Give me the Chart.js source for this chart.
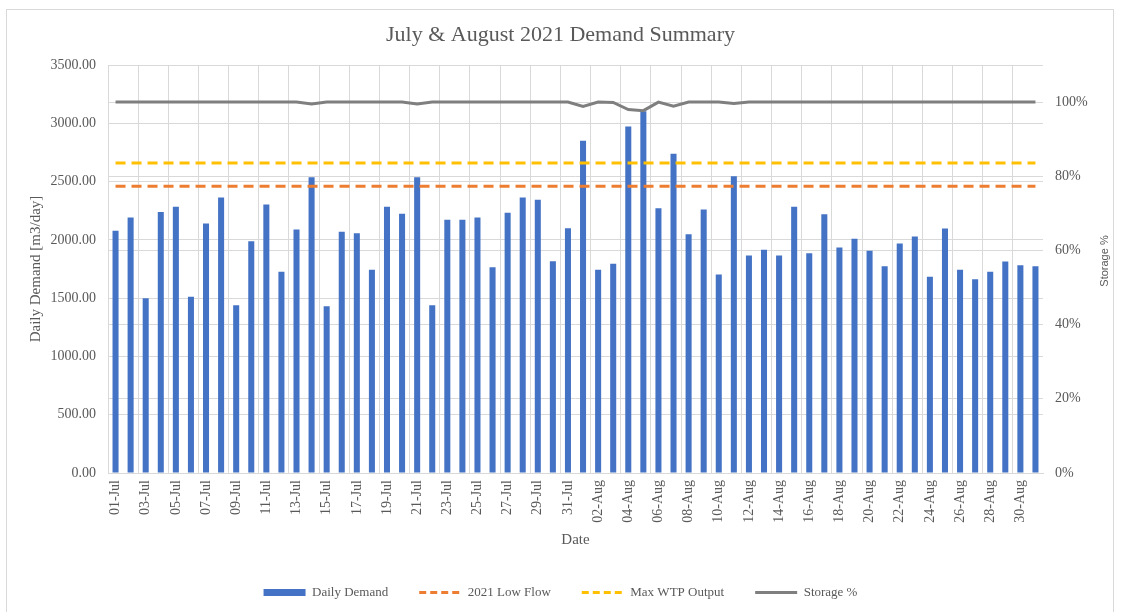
<!DOCTYPE html>
<html>
<head>
<meta charset="utf-8">
<script src="https://cdn.jsdelivr.net/npm/chart.js@4.4.0/dist/chart.umd.min.js"></script>
<style>
  html, body { margin: 0; padding: 0; background: #fff; }
  #wrap { position: relative; width: 1121px; height: 612px; }
  #frame { position: absolute; left: 6px; top: 9px; width: 1108px; height: 610px; border: 1px solid #d9d9d9; box-sizing: border-box; pointer-events: none; }
</style>
</head>
<body>
<div id="wrap">
  <canvas id="chart" width="1121" height="612"></canvas>
  <div id="frame"></div>
</div>
<script>
const dates = [
  '01-Jul', '02-Jul', '03-Jul', '04-Jul', '05-Jul', '06-Jul', '07-Jul', '08-Jul', '09-Jul', '10-Jul',
  '11-Jul', '12-Jul', '13-Jul', '14-Jul', '15-Jul', '16-Jul', '17-Jul', '18-Jul', '19-Jul', '20-Jul',
  '21-Jul', '22-Jul', '23-Jul', '24-Jul', '25-Jul', '26-Jul', '27-Jul', '28-Jul', '29-Jul', '30-Jul', '31-Jul',
  '01-Aug', '02-Aug', '03-Aug', '04-Aug', '05-Aug', '06-Aug', '07-Aug', '08-Aug', '09-Aug', '10-Aug',
  '11-Aug', '12-Aug', '13-Aug', '14-Aug', '15-Aug', '16-Aug', '17-Aug', '18-Aug', '19-Aug', '20-Aug',
  '21-Aug', '22-Aug', '23-Aug', '24-Aug', '25-Aug', '26-Aug', '27-Aug', '28-Aug', '29-Aug', '30-Aug', '31-Aug'
];

// m3/day
const dailyDemand = [
  2078, 2192, 1500, 2240, 2283, 1512, 2140, 2363, 1440, 1989,
  2303, 1726, 2089, 2537, 1431, 2069, 2057, 1743, 2283, 2223,
  2537, 1440, 2172, 2172, 2192, 1766, 2232, 2363, 2343, 1817, 2100,
  2850, 1743, 1795, 2972, 3103, 2272, 2738, 2049, 2260, 1703,
  2546, 1866, 1915, 1866, 2283, 1886, 2220, 1934, 2009, 1906,
  1774, 1969, 2029, 1683, 2097, 1743, 1663, 1726, 1814, 1783, 1774
];

// percent full
const storagePct = [
  100, 100, 100, 100, 100, 100, 100, 100, 100, 100,
  100, 100, 100, 99.5, 100, 100, 100, 100, 100, 100,
  99.5, 100, 100, 100, 100, 100, 100, 100, 100, 100, 100,
  98.8, 100, 99.9, 98.0, 97.7, 100, 98.9, 100, 100, 100,
  99.6, 100, 100, 100, 100, 100, 100, 100, 100, 100,
  100, 100, 100, 100, 100, 100, 100, 100, 100, 100, 100
];

const lowFlowLevel = 2460;
const maxWtpLevel = 2660;

const TEXT = '#595959';
const GRID = '#d9d9d9';
const SERIF = '"Liberation Serif", "Times New Roman", serif';

// excel puts the secondary axis title reading bottom-up, chart.js flips it, so draw it by hand
const storageTitle = {
  id: 'storageTitle',
  afterDraw(chart) {
    const ctx = chart.ctx;
    ctx.save();
    ctx.translate(1105, 261);
    ctx.rotate(-Math.PI / 2);
    ctx.font = '11px "Liberation Sans", Arial, sans-serif';
    ctx.fillStyle = TEXT;
    ctx.textAlign = 'center';
    ctx.textBaseline = 'middle';
    ctx.fillText('Storage %', 0, 0);
    ctx.restore();
  }
};

const firstDay = dates[0];
const lastDay = dates[dates.length - 1];

new Chart(document.getElementById('chart'), {
  type: 'bar',
  data: {
    labels: dates,
    datasets: [
      {
        type: 'bar',
        label: 'Daily Demand',
        data: dailyDemand,
        backgroundColor: '#4472C4',
        barPercentage: 0.4,
        categoryPercentage: 1,
        yAxisID: 'y',
        order: 2
      },
      {
        type: 'line',
        label: '2021 Low Flow',
        data: [{ x: firstDay, y: lowFlowLevel }, { x: lastDay, y: lowFlowLevel }],
        borderColor: '#ED7D31',
        backgroundColor: '#ED7D31',
        borderWidth: 3,
        borderDash: [10, 6],
        borderCapStyle: 'butt',
        pointRadius: 0,
        yAxisID: 'y',
        order: 1
      },
      {
        type: 'line',
        label: 'Max WTP Output',
        data: [{ x: firstDay, y: maxWtpLevel }, { x: lastDay, y: maxWtpLevel }],
        borderColor: '#FFC000',
        backgroundColor: '#FFC000',
        borderWidth: 3,
        borderDash: [10, 6],
        borderCapStyle: 'butt',
        pointRadius: 0,
        yAxisID: 'y',
        order: 1
      },
      {
        type: 'line',
        label: 'Storage %',
        data: storagePct,
        borderColor: '#7F7F7F',
        backgroundColor: '#7F7F7F',
        borderWidth: 3,
        pointRadius: 0,
        tension: 0,
        yAxisID: 'y2',
        order: 1
      }
    ]
  },
  options: {
    responsive: false,
    animation: false,
    layout: { padding: { left: 0, right: 0, top: 0, bottom: 3 } },
    plugins: {
      title: {
        display: true,
        text: 'July & August 2021 Demand Summary',
        color: TEXT,
        font: { family: SERIF, size: 22, weight: 'normal', lineHeight: 1.2 },
        padding: { top: 22, bottom: 16.6 }
      },
      legend: {
        position: 'bottom',
        labels: {
          color: TEXT,
          font: { family: SERIF, size: 13 },
          usePointStyle: true,
          pointStyleWidth: 42,
          boxHeight: 7,
          padding: 31,
          sort: (a, b) => a.datasetIndex - b.datasetIndex,
          generateLabels(chart) {
            const items = Chart.defaults.plugins.legend.labels.generateLabels(chart);
            items.forEach(item => {
              const ds = chart.data.datasets[item.datasetIndex];
              if (ds.type === 'bar') {
                item.pointStyle = 'rect';
                item.lineWidth = 0;
                item.fillStyle = ds.backgroundColor;
              } else {
                item.pointStyle = 'line';
                item.lineWidth = 3;
                item.strokeStyle = ds.borderColor;
                item.lineDash = ds.borderDash ? [7, 4] : [];
                item.lineCap = 'butt';
              }
            });
            return items;
          }
        }
      },
      tooltip: { enabled: false }
    },
    scales: {
      x: {
        offset: true,
        grid: {
          offset: true,
          drawTicks: false,
          color: ctx => (ctx.index % 2 === 0 ? GRID : 'rgba(0,0,0,0)')
        },
        border: { color: GRID },
        ticks: {
          autoSkip: false,
          minRotation: 90,
          maxRotation: 90,
          padding: 7,
          color: TEXT,
          font: { family: SERIF, size: 14 },
          callback(value, index) {
            return index % 2 === 0 ? this.getLabelForValue(value) : '';
          }
        },
        title: {
          display: true,
          text: 'Date',
          color: TEXT,
          font: { family: SERIF, size: 15 },
          padding: { top: 0, bottom: 6 }
        },
        afterFit(scale) { scale.height = 82; }
      },
      y: {
        position: 'left',
        min: 0,
        max: 3500,
        grid: { color: GRID, drawTicks: false },
        border: { color: GRID },
        ticks: {
          stepSize: 500,
          padding: 12,
          color: TEXT,
          font: { family: SERIF, size: 14 },
          callback: v => v.toFixed(2)
        },
        title: {
          display: true,
          text: 'Daily Demand [m3/day]',
          color: TEXT,
          font: { family: SERIF, size: 15 },
          padding: { top: 27, bottom: 0 }
        },
        afterFit(scale) { scale.width = 108; }
      },
      y2: {
        position: 'right',
        min: 0,
        max: 110,
        grid: { color: GRID, drawTicks: false },
        border: { display: false },
        ticks: {
          stepSize: 20,
          padding: 12,
          color: TEXT,
          font: { family: SERIF, size: 14 },
          callback: v => (v > 100 ? '' : v + '%')
        },
        afterFit(scale) { scale.width = 78; }
      }
    }
  },
  plugins: [storageTitle]
});
</script>
</body>
</html>
